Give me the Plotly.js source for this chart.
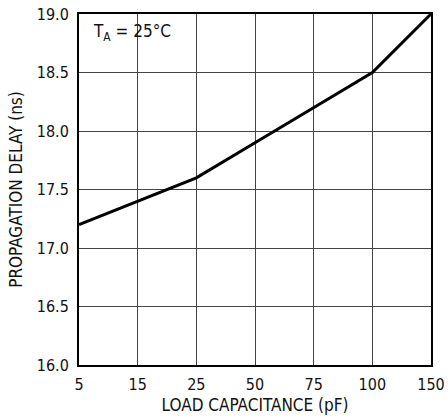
<!DOCTYPE html>
<html>
<head>
<meta charset="utf-8">
<script src="https://cdn.plot.ly/plotly-3.0.1.min.js"></script>
<style>html,body{margin:0;padding:0;background:#fff;}#chart{width:448px;height:419px;}</style>
</head>
<body>
<div id="chart"></div>
<script>
const capacitance = ['5', '15', '25', '50', '75', '100', '150'];
const delayNs = [17.2, 17.4, 17.6, 17.9, 18.2, 18.5, 19.0];
const yTicks = [16.0, 16.5, 17.0, 17.5, 18.0, 18.5, 19.0];
const yTickText = ['16.0', '16.5', '17.0', '17.5', '18.0', '18.5', '19.0'];

const FONT = '"DejaVu Sans Condensed", "Liberation Sans Narrow", sans-serif';

const trace = {
  x: capacitance,
  y: delayNs,
  type: 'scatter',
  mode: 'lines',
  line: {color: '#000', width: 3},
  hoverinfo: 'skip'
};

const layout = {
  width: 448,
  height: 419,
  margin: {l: 79, r: 17, t: 14, b: 54},
  paper_bgcolor: '#fff',
  plot_bgcolor: '#fff',
  showlegend: false,
  font: {family: FONT, color: '#111', size: 16},
  xaxis: {
    type: 'category',
    categoryorder: 'array',
    categoryarray: capacitance,
    range: [0, capacitance.length - 1],
    showgrid: true,
    gridcolor: '#444',
    gridwidth: 1,
    showline: true,
    linecolor: '#000',
    linewidth: 2,
    mirror: true,
    ticks: '',
    ticklabelstandoff: 4,
    tickfont: {family: FONT, size: 16, color: '#111'},
    zeroline: false,
    title: {text: 'LOAD CAPACITANCE (pF)', font: {family: FONT, size: 17, color: '#111'}, standoff: 6}
  },
  yaxis: {
    range: [16, 19],
    tickvals: yTicks,
    ticktext: yTickText,
    showgrid: true,
    gridcolor: '#444',
    gridwidth: 1,
    showline: true,
    linecolor: '#000',
    linewidth: 2,
    mirror: true,
    ticks: '',
    ticklabelstandoff: 5,
    tickfont: {family: FONT, size: 16, color: '#111'},
    zeroline: false,
    title: {text: 'PROPAGATION DELAY (ns)', font: {family: FONT, size: 17, color: '#111'}, standoff: 10}
  },
  annotations: [{
    xref: 'paper', yref: 'paper',
    x: 0.035, y: 0.985,
    xanchor: 'left', yanchor: 'top',
    text: 'T<sub>A</sub> = 25°C',
    showarrow: false,
    font: {family: FONT, size: 17, color: '#111'}
  }]
};

Plotly.newPlot('chart', [trace], layout, {staticPlot: true, displayModeBar: false});
</script>
</body>
</html>
